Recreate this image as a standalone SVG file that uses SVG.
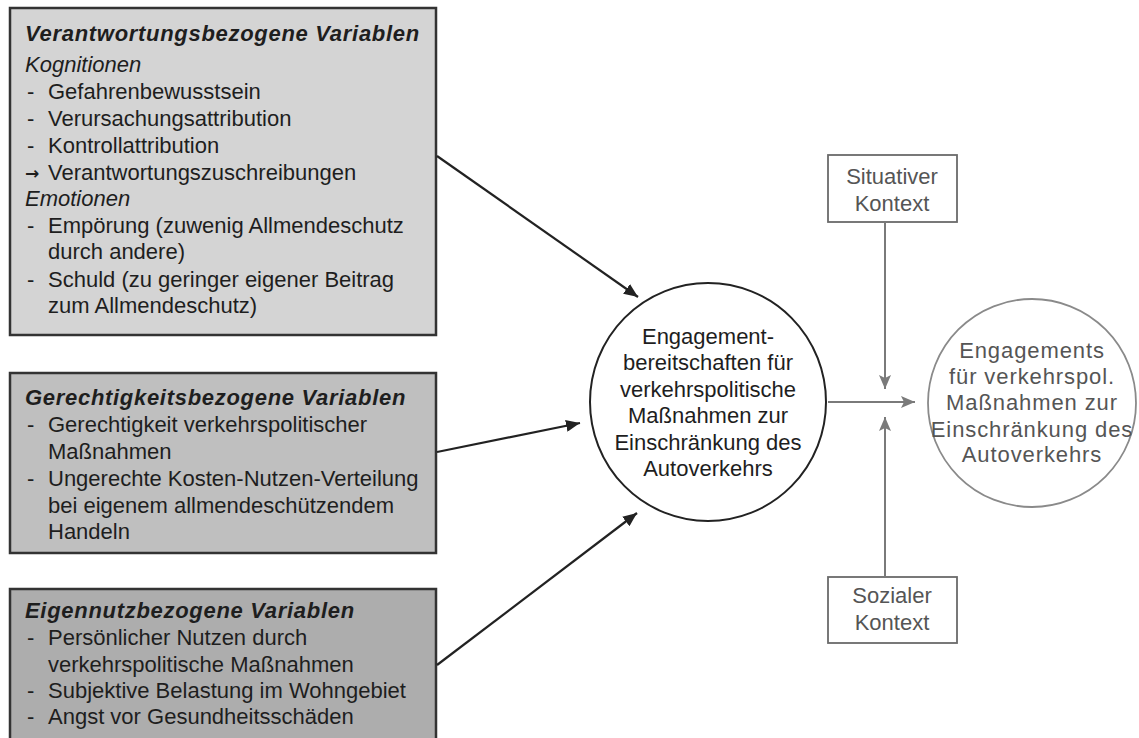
<svg xmlns="http://www.w3.org/2000/svg" width="1139" height="738" viewBox="0 0 1139 738">
<defs>
<style>
text{font-family:"Liberation Sans",Arial,Helvetica,sans-serif;font-size:22px;fill:#1e1e1e}
.ttl{font-weight:bold;font-style:italic;letter-spacing:0.7px}
.it{font-style:italic}
.arr{font-family:"DejaVu Sans",sans-serif;font-size:17px;font-weight:bold}
.box{stroke:#333;stroke-width:2.5}
.gray{fill:#555}
.mid{text-anchor:middle}
.ctx{fill:#fff;stroke:#6a6a6a;stroke-width:1.8}
.blk{stroke:#222;stroke-width:2.2;fill:none}
.gln{stroke:#7a7a7a;stroke-width:2;fill:none}
</style>
<marker id="ab" markerUnits="userSpaceOnUse" markerWidth="14" markerHeight="12" refX="14" refY="6" orient="auto">
<path d="M0,0 L14,6 L0,12 z" fill="#222"/>
</marker>
<marker id="ag" markerUnits="userSpaceOnUse" markerWidth="14" markerHeight="12" refX="14" refY="6" orient="auto">
<path d="M0,0 L14,6 L0,12 L3,6 z" fill="#7a7a7a"/>
</marker>
</defs>
<rect width="1139" height="738" fill="#fff"/>

<g id="box-verantwortung">
<rect class="box" x="10" y="8" width="426" height="327" fill="#d4d4d4"/>
<text class="ttl" x="25" y="41">Verantwortungsbezogene Variablen</text>
<text class="it" x="25" y="72">Kognitionen</text>
<text x="27" y="99">-</text><text x="48" y="99">Gefahrenbewusstsein</text>
<text x="27" y="126">-</text><text x="48" y="126">Verursachungsattribution</text>
<text x="27" y="153">-</text><text x="48" y="153">Kontrollattribution</text>
<text class="arr" x="25" y="179">→</text><text x="48" y="180">Verantwortungszuschreibungen</text>
<text class="it" x="25" y="206">Emotionen</text>
<text x="27" y="233">-</text><text x="48" y="233">Empörung (zuwenig Allmendeschutz</text>
<text x="48" y="259">durch andere)</text>
<text x="27" y="287">-</text><text x="48" y="287">Schuld (zu geringer eigener Beitrag</text>
<text x="48" y="313">zum Allmendeschutz)</text>
</g>

<g id="box-gerechtigkeit">
<rect class="box" x="10" y="373" width="426" height="180" fill="#bfbfbf"/>
<text class="ttl" x="25" y="405">Gerechtigkeitsbezogene Variablen</text>
<text x="27" y="432">-</text><text x="48" y="432">Gerechtigkeit verkehrspolitischer</text>
<text x="48" y="459">Maßnahmen</text>
<text x="27" y="486">-</text><text x="48" y="486">Ungerechte Kosten-Nutzen-Verteilung</text>
<text x="48" y="513">bei eigenem allmendeschützendem</text>
<text x="48" y="539">Handeln</text>
</g>

<g id="box-eigennutz">
<rect class="box" x="10" y="589" width="426" height="160" fill="#adadad"/>
<text class="ttl" x="25" y="618">Eigennutzbezogene Variablen</text>
<text x="27" y="645">-</text><text x="48" y="645">Persönlicher Nutzen durch</text>
<text x="48" y="672">verkehrspolitische Maßnahmen</text>
<text x="27" y="698">-</text><text x="48" y="698">Subjektive Belastung im Wohngebiet</text>
<text x="27" y="724">-</text><text x="48" y="724">Angst vor Gesundheitsschäden</text>
</g>

<g id="node-bereitschaften">
<ellipse cx="708" cy="402" rx="118" ry="119" fill="#fff" stroke="#222" stroke-width="2"/>
<text class="mid" x="708" y="344">Engagement-</text>
<text class="mid" x="708" y="370">bereitschaften für</text>
<text class="mid" x="708" y="397">verkehrspolitische</text>
<text class="mid" x="708" y="423">Maßnahmen zur</text>
<text class="mid" x="708" y="450">Einschränkung des</text>
<text class="mid" x="708" y="476">Autoverkehrs</text>
</g>

<g id="node-engagements">
<circle cx="1032" cy="403" r="104" fill="#fff" stroke="#8a8a8a" stroke-width="1.8"/>
<g style="letter-spacing:0.9px">
<text class="mid gray" x="1032" y="358">Engagements</text>
<text class="mid gray" x="1032" y="384">für verkehrspol.</text>
<text class="mid gray" x="1032" y="410">Maßnahmen zur</text>
<text class="mid gray" x="1032" y="437">Einschränkung des</text>
<text class="mid gray" x="1032" y="462">Autoverkehrs</text>
</g>
</g>

<g id="node-situativ">
<rect class="ctx" x="828" y="155" width="129" height="67"/>
<text class="mid gray" x="892" y="184">Situativer</text>
<text class="mid gray" x="892" y="211">Kontext</text>
</g>

<g id="node-sozial">
<rect class="ctx" x="828" y="577" width="129" height="66"/>
<text class="mid gray" x="892" y="603">Sozialer</text>
<text class="mid gray" x="892" y="630">Kontext</text>
</g>

<g id="connectors">
<line class="blk" x1="437" y1="156" x2="638" y2="297" marker-end="url(#ab)"/>
<line class="blk" x1="437" y1="452" x2="580" y2="423" marker-end="url(#ab)"/>
<line class="blk" x1="437" y1="665" x2="637" y2="513" marker-end="url(#ab)"/>
<line class="gln" x1="828" y1="402" x2="915" y2="402" marker-end="url(#ag)"/>
<line class="gln" x1="885" y1="222" x2="885" y2="389" marker-end="url(#ag)"/>
<line class="gln" x1="885" y1="577" x2="885" y2="417" marker-end="url(#ag)"/>
</g>
</svg>
